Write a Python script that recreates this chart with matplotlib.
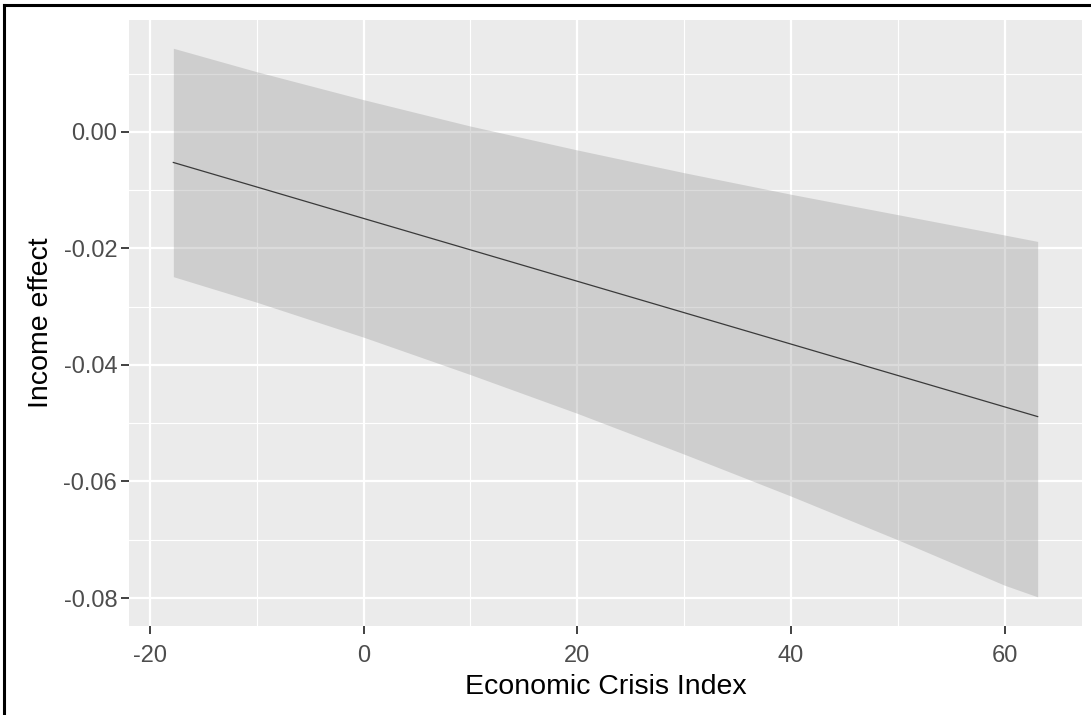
import numpy as np
import matplotlib
matplotlib.use("Agg")
import matplotlib.pyplot as plt
from matplotlib.lines import Line2D

plt.rcParams["font.family"] = ["Liberation Sans", "DejaVu Sans"]

# values
crisis_index = [-17.8, -10, 0, 10, 20, 30, 40, 50, 60, 63.1]
income_fit = [-0.00525, -0.00945, -0.01485, -0.02024, -0.02563,
              -0.03102, -0.03641, -0.0418, -0.04719, -0.04886]
ci_upper = [0.01435, 0.01033, 0.00553, 0.00100, -0.00310,
            -0.00700, -0.01070, -0.01420, -0.01770, -0.01880]
ci_lower = [-0.02485, -0.02923, -0.03523, -0.04165, -0.04830,
            -0.05530, -0.06250, -0.07000, -0.07780, -0.07980]
x_ticks = [-20, 0, 20, 40, 60]
y_ticks = [-0.08, -0.06, -0.04, -0.02, 0.00]

W, H = 1091, 715
fig = plt.figure(figsize=(W / 100, H / 100), dpi=100)
ax = fig.add_axes([129 / W, 1 - 626 / H, (1082 - 129) / W, (626 - 20) / H])

ax.set_facecolor("#EBEBEB")
for s in ax.spines.values():
    s.set_visible(False)

ax.set_xlim(-21.95, 67.25)
ax.set_ylim(-0.0848, 0.0192)
ax.set_xticks(x_ticks)
ax.set_xticks([-10, 10, 30, 50], minor=True)
ax.set_yticks(y_ticks)
ax.set_yticks([-0.07, -0.05, -0.03, -0.01, 0.01], minor=True)
ax.set_xticklabels([str(v) for v in x_ticks])
ax.set_yticklabels([f"{v:.2f}" for v in y_ticks])

ax.grid(True, which="major", color="white", linewidth=1.6)
ax.grid(True, which="minor", color="white", linewidth=0.8)
ax.set_axisbelow(True)

ax.tick_params(axis="both", which="major", length=5.5, width=1.3,
               color="#333333", labelcolor="#4D4D4D", labelsize=17)
ax.tick_params(axis="x", which="major", pad=8.5)
ax.tick_params(axis="y", which="major", pad=3)
ax.tick_params(axis="both", which="minor", length=0)

ax.fill_between(crisis_index, ci_lower, ci_upper, color="#999999",
                alpha=0.35, linewidth=0, zorder=2)
ax.plot(crisis_index, income_fit, color="#3A3A3A", linewidth=0.9, zorder=3)

ax.set_xlabel("Economic Crisis Index", fontsize=20.5, color="black", labelpad=5)
ax.set_ylabel("Income effect", fontsize=20.5, color="black", labelpad=6.5)

# black frame on the left and top of the screenshot
fig.add_artist(Line2D([4 / W, 4 / W], [0, 1 - 5 / H], transform=fig.transFigure,
                      color="black", linewidth=2.2))
fig.add_artist(Line2D([4 / W, 1], [1 - 5 / H, 1 - 5 / H], transform=fig.transFigure,
                      color="black", linewidth=2.2))

fig.savefig("out.png", dpi=100)
